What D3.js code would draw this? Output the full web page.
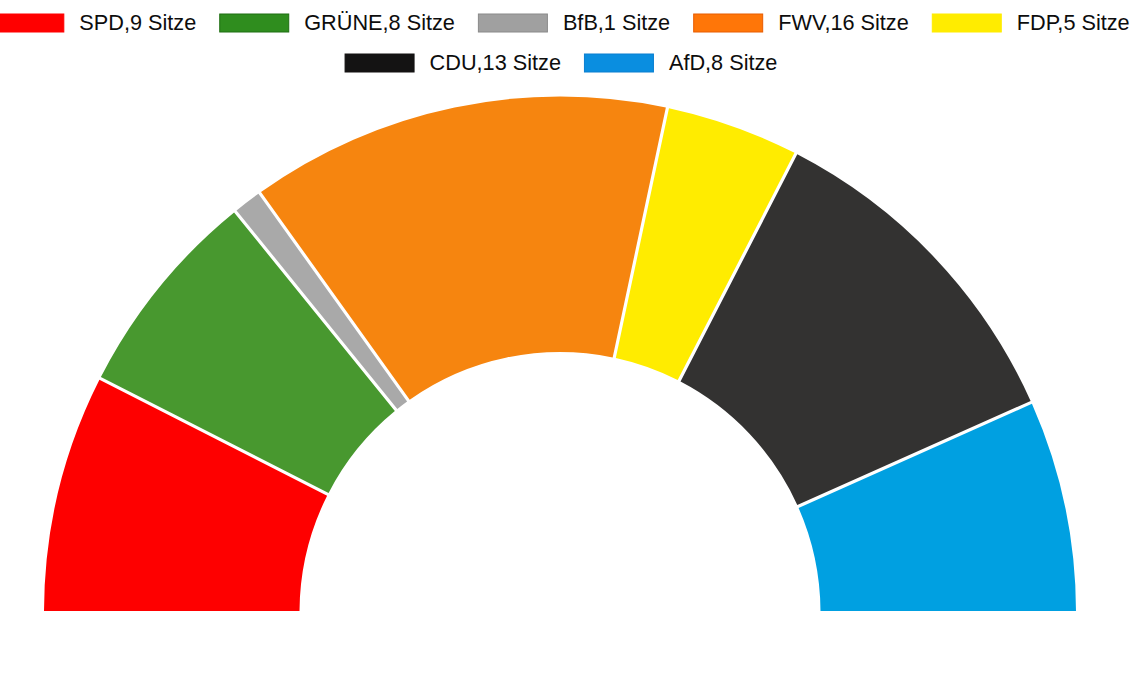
<!DOCTYPE html>
<html>
<head>
<meta charset="utf-8">
<script src="https://cdn.jsdelivr.net/npm/d3@7/dist/d3.min.js"></script>
<style>
  html, body { margin: 0; padding: 0; background: #ffffff; }
  svg { display: block; }
  text { font-family: "Liberation Sans", Arial, sans-serif; }
</style>
</head>
<body>
<svg id="chart" width="1140" height="674"></svg>
<script>
const parties = ["SPD", "GRÜNE", "BfB", "FWV", "FDP", "CDU", "AfD"];
const seats = [9, 8, 1, 16, 5, 13, 8];
const sliceColors = ["#fe0000", "#48982f", "#a9a9a9", "#f6850f", "#ffec00", "#333231", "#00a0e1"];
const legendColors = ["#ff0000", "#2f8d1e", "#a0a0a0", "#ff7608", "#ffec00", "#141313", "#0a8ee0"];
const legendStroke = ["#ff0000", "#1f6e12", "#8a8a8a", "#e85c00", "#ffec00", "#141313", "#0a7fd0"];
const legendRows = [[0, 1, 2, 3, 4], [5, 6]];
const suffix = " Sitze";

const svg = d3.select("#chart");
const cx = 560, cy = 612.5;
const rOuter = 516, rInner = 260.5;

const data = parties.map((p, i) => ({ party: p, seats: seats[i], i }));

const pie = d3.pie()
  .value(d => d.seats)
  .sort(null)
  .startAngle(-Math.PI / 2)
  .endAngle(Math.PI / 2)
  .padAngle(3.2 / 400);

const arc = d3.arc()
  .innerRadius(rInner)
  .outerRadius(rOuter)
  .padRadius(400);

const g = svg.append("g").attr("transform", `translate(${cx},${cy})`);
g.selectAll("path")
  .data(pie(data))
  .join("path")
  .attr("d", arc)
  .attr("fill", d => sliceColors[d.data.i]);

// Legend
const swW = 70, swH = 19, swGap = 15, itemGap = 23;
const rowY = [13.5, 53.5];
const rowCenter = [562, 561];
const leg = svg.append("g");

legendRows.forEach((row, r) => {
  const items = row.map(i => {
    const label = parties[i] + "," + seats[i] + suffix;
    const t = leg.append("text")
      .attr("font-size", 21.7)
      .attr("fill", "#0d0d0d")
      .text(label);
    const w = t.node().getComputedTextLength();
    return { i, t, w };
  });
  const total = items.reduce((s, it) => s + swW + swGap + it.w, 0) + itemGap * (items.length - 1);
  let x = rowCenter[r] - total / 2;
  items.forEach(it => {
    leg.append("rect")
      .attr("x", x + 0.5)
      .attr("y", rowY[r] + 0.5)
      .attr("width", swW - 1)
      .attr("height", swH - 1)
      .attr("fill", legendColors[it.i])
      .attr("stroke", legendStroke[it.i])
      .attr("stroke-width", 1);
    it.t.attr("x", x + swW + swGap).attr("y", rowY[r] + 16.8);
    x += swW + swGap + it.w + itemGap;
  });
});
</script>
</body>
</html>
